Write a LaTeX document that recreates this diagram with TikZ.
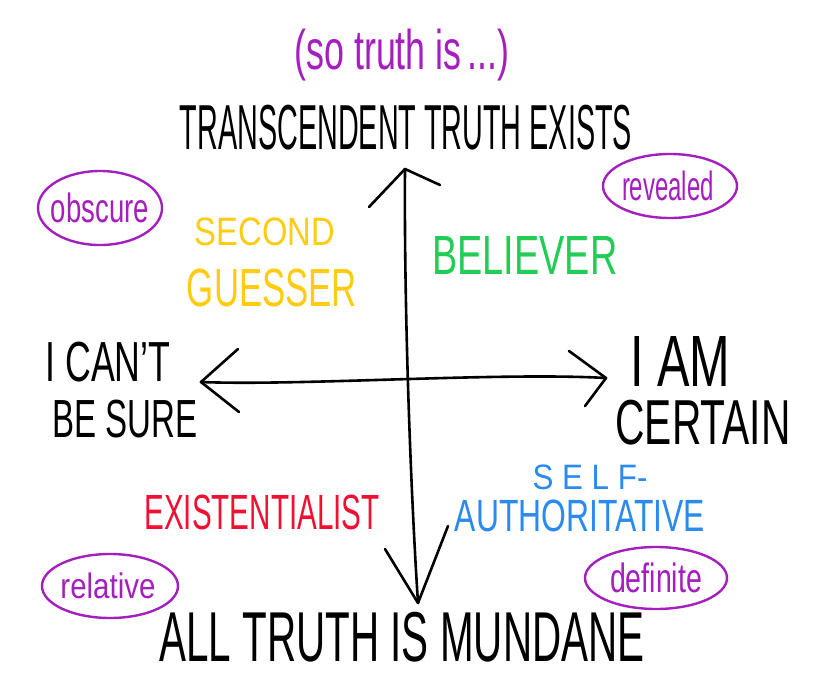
\documentclass[tikz,border=0pt]{standalone}
\usepackage{fontspec}
\usepackage{graphicx}
\setmainfont{Liberation Sans}
\usetikzlibrary{shapes.geometric,calc}
\definecolor{hpurple}{HTML}{A51EBE}
\definecolor{hyellow}{HTML}{FFCC11}
\definecolor{hgreen}{HTML}{22CC55}
\definecolor{hred}{HTML}{EE1133}
\definecolor{hblue}{HTML}{2A8AEE}
\newcommand{\fitbox}[3]{\resizebox*{#1pt}{#2pt}{#3}}
\tikzset{
  lbl/.style={inner sep=0pt, anchor=center},
  pen/.style={line width=2.6pt, line cap=round, line join=round, black},
  bubble/.style={draw=hpurple, line width=2.4pt, ellipse, inner sep=0pt},
}
\begin{document}
\begin{tikzpicture}[x=1pt,y=-1pt]
\useasboundingbox (0,0) rectangle (840,696);
\fill[white] (0,0) rectangle (840,696);

% titles
\node[lbl, text=hpurple] (sotruth) at (402,55) {\fitbox{215}{52}{(so truth is\,...)}};
\node[lbl] (top) at (406,128) {\fitbox{452}{45}{TRANSCENDENT TRUTH EXISTS}};
\node[lbl] (bottom) at (402,637) {\fitbox{485}{50}{ALL TRUTH IS MUNDANE}};
\node[lbl] (cant1) at (108,362) {\fitbox{125}{40}{I CAN'T}};
\node[lbl] (cant2) at (125,419) {\fitbox{145}{38}{BE SURE}};
\node[lbl] (am1) at (680,361) {\fitbox{100}{50}{I AM}};
\node[lbl] (am2) at (703,423) {\fitbox{175}{45}{CERTAIN}};

% quadrant labels
\node[lbl, text=hyellow] (sec1) at (265,232) {\fitbox{140}{28}{SECOND}};
\node[lbl, text=hyellow] (sec2) at (272,288) {\fitbox{170}{38}{GUESSER}};
\node[lbl, text=hgreen] (believer) at (525,255) {\fitbox{185}{38}{BELIEVER}};
\node[lbl, text=hred] (exist) at (262,512) {\fitbox{235}{35}{EXISTENTIALIST}};
\node[lbl, text=hblue] (self1) at (590,477) {\fitbox{115}{25}{S E L F-}};
\node[lbl, text=hblue] (self2) at (580,516) {\fitbox{250}{32}{AUTHORITATIVE}};

% bubbles
\node[bubble, minimum width=124pt, minimum height=74pt] (obscureB) at (100,208) {};
\node[lbl, text=hpurple] (obscure) at (100,208) {\fitbox{98}{30}{obscure}};
\node[bubble, minimum width=134pt, minimum height=64pt] (revealedB) at (670,186) {};
\node[lbl, text=hpurple] (revealed) at (668,186) {\fitbox{92}{30}{revealed}};
\node[bubble, minimum width=136pt, minimum height=64pt] (relativeB) at (110,586) {};
\node[lbl, text=hpurple] (relative) at (108,586) {\fitbox{95}{26}{relative}};
\node[bubble, minimum width=142pt, minimum height=62pt] (definiteB) at (656,578) {};
\node[lbl, text=hpurple] (definite) at (656,578) {\fitbox{92}{30}{definite}};

% axes
\coordinate (vt) at (405,169);
\coordinate (vb) at (418,603);
\coordinate (hl) at (201,382);
\coordinate (hr) at (606,378);
\draw[pen] (vt) .. controls (404,300) and (410,480) .. (vb);
\draw[pen] (hl) .. controls (300,386) and (500,372) .. (hr);
% arrowheads
\draw[pen] ($(vt)+(-36,38)$) -- (vt) -- ($(vt)+(35,16)$);
\draw[pen] ($(vb)+(-33,-54)$) -- (vb) -- ($(vb)+(30,-77)$);
\draw[pen] ($(hl)+(37,-33)$) -- (hl) -- ($(hl)+(38,30)$);
\draw[pen] ($(hr)+(-37,-27)$) -- (hr) -- ($(hr)+(-21,28)$);
\end{tikzpicture}
\end{document}
